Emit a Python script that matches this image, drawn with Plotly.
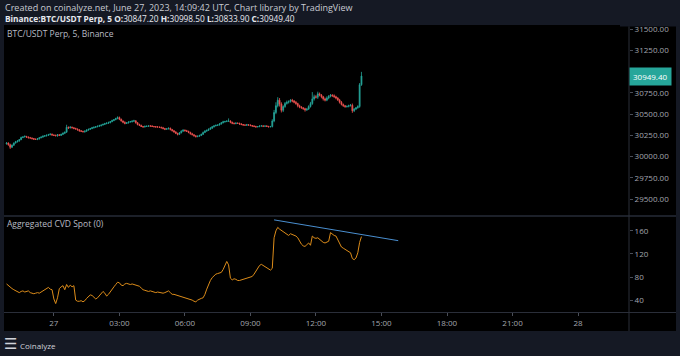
import plotly.graph_objects as go
import pandas as pd

# ---------------- data ----------------
start_time = "2023-06-26 21:50"
first_open = 30150

close = [
    30160, 30140,
    30110, 30135, 30160, 30175, 30185, 30200, 30225, 30232, 30238, 30230, 30222, 30218,
    30212, 30205, 30202, 30210, 30222, 30230, 30240, 30246, 30252, 30258, 30264, 30255,
    30250, 30245, 30258, 30250, 30262, 30275, 30288, 30345, 30338, 30346, 30340, 30332,
    30325, 30315, 30304, 30298, 30292, 30300, 30312, 30322, 30330, 30340, 30346, 30352,
    30358, 30365, 30372, 30380, 30388, 30395, 30400, 30412, 30425, 30435, 30448, 30460,
    30440, 30420, 30405, 30390, 30398, 30408, 30412, 30418, 30422, 30400, 30378, 30368,
    30355, 30350, 30356, 30358, 30362, 30360, 30355, 30352, 30350, 30348, 30345, 30340,
    30330, 30322, 30328, 30334, 30320, 30305, 30290, 30275, 30262, 30280, 30300, 30312,
    30305, 30298, 30285, 30270, 30258, 30245, 30236, 30240, 30250, 30262, 30285, 30300,
    30310, 30322, 30335, 30352, 30362, 30368, 30372, 30385, 30398, 30410, 30414, 30418,
    30420, 30405, 30392, 30388, 30395, 30392, 30385, 30378, 30372, 30370, 30375, 30372,
    30366, 30360, 30355, 30350, 30354, 30360, 30362, 30358, 30360, 30356, 30352, 30354,
    30420, 30520, 30600, 30665, 30620, 30545, 30590, 30625, 30640, 30648, 30665, 30655,
    30640, 30625, 30600, 30585, 30575, 30565, 30550, 30560, 30590, 30625, 30680, 30705,
    30700, 30740, 30725, 30705, 30680, 30665, 30690, 30710, 30725, 30718, 30705, 30690,
    30668, 30640, 30615, 30600, 30588, 30592, 30600, 30605, 30540, 30560, 30575, 30590,
    30847.2, 30949.4,
]

wick_up = [
    10, 8,
    12, 8, 6, 10, 8, 6, 10, 8, 12, 6, 8, 10,
    8, 6, 10, 8, 6, 8, 10, 6, 8, 10, 12, 8,
    6, 10, 8, 6, 8, 10, 6, 30, 10, 14, 8, 6,
    8, 6, 10, 8, 6, 8, 10, 6, 8, 10, 8, 6,
    8, 10, 6, 8, 10, 8, 12, 6, 10, 8, 10, 14,
    12, 8, 6, 10, 8, 6, 8, 10, 12, 6, 8, 10,
    8, 6, 10, 8, 6, 8, 10, 6, 8, 10, 6, 8,
    10, 8, 6, 10, 8, 6, 8, 10, 6, 8, 10, 8,
    8, 10, 6, 8, 10, 6, 8, 10, 6, 8, 10, 12,
    8, 10, 12, 6, 8, 10, 6, 8, 10, 12, 8, 10,
    30, 8, 6, 10, 8, 6, 8, 10, 6, 8, 10, 6,
    8, 6, 10, 8, 6, 8, 10, 6, 8, 10, 6, 8,
    20, 30, 40, 35, 25, 20, 15, 18, 20, 15, 12, 15,
    12, 15, 10, 12, 10, 8, 10, 12, 15, 20, 80, 25,
    20, 25, 15, 12, 10, 15, 20, 15, 12, 10, 15, 12,
    10, 12, 15, 10, 8, 10, 12, 15, 20, 12, 10, 15,
    20, 49.1,
]

wick_dn = [
    8, 12,
    20, 8, 10, 6, 8, 10, 6, 8, 6, 10, 8, 6,
    10, 8, 6, 8, 10, 6, 8, 6, 10, 8, 6, 10,
    8, 6, 10, 8, 6, 8, 10, 8, 12, 6, 8, 10,
    6, 8, 10, 8, 6, 10, 8, 6, 8, 6, 10, 8,
    6, 8, 10, 6, 8, 6, 10, 8, 6, 8, 6, 8,
    10, 8, 12, 10, 6, 8, 6, 10, 8, 12, 10, 8,
    6, 10, 8, 6, 8, 10, 6, 8, 10, 6, 8, 10,
    8, 10, 6, 8, 12, 10, 8, 10, 12, 8, 6, 8,
    10, 8, 10, 12, 8, 10, 12, 8, 6, 8, 6, 8,
    6, 8, 6, 8, 10, 6, 8, 6, 8, 6, 10, 8,
    8, 12, 10, 8, 6, 8, 10, 8, 10, 6, 8, 10,
    8, 10, 8, 10, 6, 8, 6, 10, 8, 6, 10, 8,
    10, 15, 20, 20, 30, 25, 20, 15, 12, 15, 12, 15,
    12, 15, 20, 15, 12, 15, 20, 12, 10, 12, 15, 20,
    15, 20, 15, 18, 20, 15, 12, 15, 12, 15, 12, 15,
    12, 15, 12, 15, 12, 10, 12, 10, 25, 15, 12, 10,
    15, 13.3,
]

cvd = [
    68, 65,
    62, 60, 58, 56, 54, 53, 55, 56, 54, 55, 56, 53,
    52, 51, 52, 53, 52, 54, 56, 57, 60, 62, 59, 58,
    42, 34, 44, 60, 63, 65, 58, 67, 62, 66, 63, 65,
    40, 38, 38, 39, 37, 39, 43, 47, 49, 48, 44, 42,
    44, 48, 51, 55, 52, 47, 50, 55, 59, 63, 67, 71,
    70, 66, 65, 68, 69, 68, 67, 68, 67, 67, 66, 64,
    61, 58, 57, 56, 55, 56, 55, 54, 53, 54, 53, 52,
    52, 53, 55, 56, 53, 50, 50, 49, 48, 47, 46, 45,
    45, 44, 43, 42, 40, 38, 37, 40, 42, 43, 44, 50,
    59, 67, 74, 79, 83, 85, 86, 87, 88, 93, 100, 107,
    101, 78, 75, 77, 76, 74, 74, 75, 76, 76, 77, 78,
    79, 81, 85, 90, 96, 100, 102, 100, 97, 95, 93, 92,
    95, 148, 160, 166, 163, 161, 159, 156, 154, 152, 155, 154,
    153, 151, 148, 142, 137, 134, 133, 136, 139, 135, 151, 148,
    147, 148, 145, 142, 140, 139, 141, 142, 157, 154, 152, 151,
    145, 138, 132, 130, 128, 126, 124, 122, 112, 110, 113, 122,
    140, 150,
]

price_ticks = [29500, 29750, 30000, 30250, 30500, 30750, 31000, 31250, 31500]
cvd_ticks = [40, 80, 120, 160]
time_tick_vals = ["2023-06-27 00:00", "2023-06-27 03:00", "2023-06-27 06:00",
                  "2023-06-27 09:00", "2023-06-27 12:00", "2023-06-27 15:00",
                  "2023-06-27 18:00", "2023-06-27 21:00", "2023-06-28 00:00"]
time_tick_text = ["27", "03:00", "06:00", "09:00", "12:00", "15:00", "18:00", "21:00", "28"]
trend_times = ["2023-06-27 10:05", "2023-06-27 15:46"]
trend_values = [179, 143]

time_range = ["2023-06-26 21:43", "2023-06-28 02:20"]
price_range = [29312, 31527]
cvd_range = [19.4, 184]

# ---------------- derived OHLC ----------------
times = pd.date_range(start_time, periods=len(close), freq="5min")
opens = [first_open] + close[:-1]
highs = [max(o, c) + w for o, c, w in zip(opens, close, wick_up)]
lows = [min(o, c) - w for o, c, w in zip(opens, close, wick_dn)]

# ---------------- layout geometry (pixels) ----------------
W, H = 680, 356
ML, MR, MT, MB = 4, 51, 27, 44
PW, PH = W - ML - MR, H - MT - MB


def px(x):
    return (x - ML) / PW


def py(y):
    return (H - MB - y) / PH


FONT = "Open Sans"
BG = "#151924"
GRID = "#2a2e39"
TXT = "#a3a6af"
TICKFONT = dict(size=8, color=TXT, family=FONT)

fig = go.Figure()

fig.add_trace(go.Candlestick(
    x=times, open=opens, high=highs, low=lows, close=close,
    increasing=dict(line=dict(color="#26a69a", width=0.8), fillcolor="#26a69a"),
    decreasing=dict(line=dict(color="#ef5350", width=0.8), fillcolor="#ef5350"),
    whiskerwidth=0, xaxis="x", yaxis="y", showlegend=False, hoverinfo="skip",
))

fig.add_trace(go.Scatter(
    x=times, y=cvd, mode="lines", line=dict(color="#dc8c1a", width=1),
    xaxis="x2", yaxis="y2", showlegend=False, hoverinfo="skip",
))

fig.add_trace(go.Scatter(
    x=trend_times, y=trend_values, mode="lines", line=dict(color="#4a8fd0", width=1),
    xaxis="x2", yaxis="y2", showlegend=False, hoverinfo="skip",
))

split_top = py(215)
split_bot = py(217)

fig.update_layout(
    width=W, height=H, autosize=False,
    margin=dict(l=ML, r=MR, t=MT, b=MB, autoexpand=False),
    paper_bgcolor=BG, plot_bgcolor="#000000",
    font=dict(family=FONT, color=TXT, size=8),
    xaxis=dict(domain=[0, 1], anchor="y", matches="x2", range=time_range, type="date",
               showticklabels=False, showgrid=False, zeroline=False, showline=False,
               ticks="", automargin=False, rangeslider=dict(visible=False)),
    xaxis2=dict(domain=[0, 1], anchor="y2", range=time_range, type="date",
                tickvals=time_tick_vals, ticktext=time_tick_text, automargin=False,
                showgrid=False, zeroline=False, showline=False,
                ticks="outside", ticklen=3, tickcolor="#4a4e58", tickfont=TICKFONT),
    yaxis=dict(domain=[split_top, 1], anchor="x", side="right", range=price_range,
               tickvals=price_ticks, tickformat=".2f", showgrid=False, zeroline=False,
               showline=False, ticks="outside", ticklen=3, tickcolor="#4a4e58",
               automargin=False, tickfont=TICKFONT),
    yaxis2=dict(domain=[0, split_bot], anchor="x2", side="right", range=cvd_range,
                tickvals=cvd_ticks, showgrid=False, zeroline=False, showline=False,
                ticks="outside", ticklen=3, tickcolor="#4a4e58",
                automargin=False, tickfont=TICKFONT),
    showlegend=False,
)

shapes = [
    # black chart panel
    dict(type="rect", xref="paper", yref="paper", x0=px(4), x1=px(676), y0=py(331), y1=py(25),
         fillcolor="#000000", line=dict(width=0), layer="below"),
    # header strip masks the top of the price scale
    dict(type="rect", xref="paper", yref="paper", x0=px(620), x1=px(680), y0=py(26.5), y1=py(0),
         fillcolor=BG, line=dict(width=0), layer="above"),
    # pane separator
    dict(type="line", xref="paper", yref="paper", x0=px(4), x1=px(676), y0=py(216), y1=py(216),
         line=dict(color="#1c2029", width=2), layer="above"),
    # time axis top line
    dict(type="line", xref="paper", yref="paper", x0=px(4), x1=px(676), y0=py(312.5), y1=py(312.5),
         line=dict(color=GRID, width=1), layer="above"),
    # price axis vertical line
    dict(type="line", xref="paper", yref="paper", x0=px(629), x1=px(629), y0=py(331), y1=py(26.5),
         line=dict(color=GRID, width=1), layer="above"),
]
fig.update_layout(shapes=shapes)

hdr2 = ("<b>Binance:BTC/USDT Perp, 5 O:</b>%.2f <b>H:</b>%.2f <b>L:</b>%.2f <b>C:</b>%.2f"
        % (opens[-1], highs[-1], lows[-1], close[-1]))

annotations = [
    dict(text="Created on coinalyze.net, June 27, 2023, 14:09:42 UTC, Chart library by TradingView",
         xref="paper", yref="paper", x=px(3), y=py(7), xanchor="left", yanchor="middle",
         showarrow=False, font=dict(size=9, color="#c8cbd3", family=FONT)),
    dict(text=hdr2, xref="paper", yref="paper", x=px(3), y=py(19), xanchor="left", yanchor="middle",
         showarrow=False, font=dict(size=8.3, color="#e6e8ee", family=FONT)),
    dict(text="BTC/USDT Perp, 5, Binance", xref="paper", yref="paper", x=px(5), y=py(34),
         xanchor="left", yanchor="middle", showarrow=False,
         font=dict(size=8.5, color="#b8bbc4", family=FONT)),
    dict(text="Aggregated CVD Spot (0)", xref="paper", yref="paper", x=px(5), y=py(224),
         xanchor="left", yanchor="middle", showarrow=False,
         font=dict(size=8.5, color="#b8bbc4", family=FONT)),
    dict(text="%.2f" % close[-1], xref="paper", yref="y", x=1, y=close[-1],
         xanchor="left", yanchor="middle", showarrow=False, bgcolor="#26a69a",
         borderpad=3, font=dict(size=8, color="#ffffff", family=FONT)),
    dict(text="☰", xref="paper", yref="paper", x=px(2), y=py(344),
         xanchor="left", yanchor="middle", showarrow=False,
         font=dict(size=15, color="#d0d3da", family="DejaVu Sans")),
    dict(text="Coinalyze", xref="paper", yref="paper", x=px(18), y=py(345),
         xanchor="left", yanchor="middle", showarrow=False,
         font=dict(size=8, color="#d0d3da", family=FONT)),
]
fig.update_layout(annotations=annotations)

fig.write_html(
    "out.html",
    config={"displayModeBar": False, "staticPlot": True},
    post_script="document.body.style.margin='0';document.body.style.padding='0';"
                "document.body.style.background='#151924';",
)
